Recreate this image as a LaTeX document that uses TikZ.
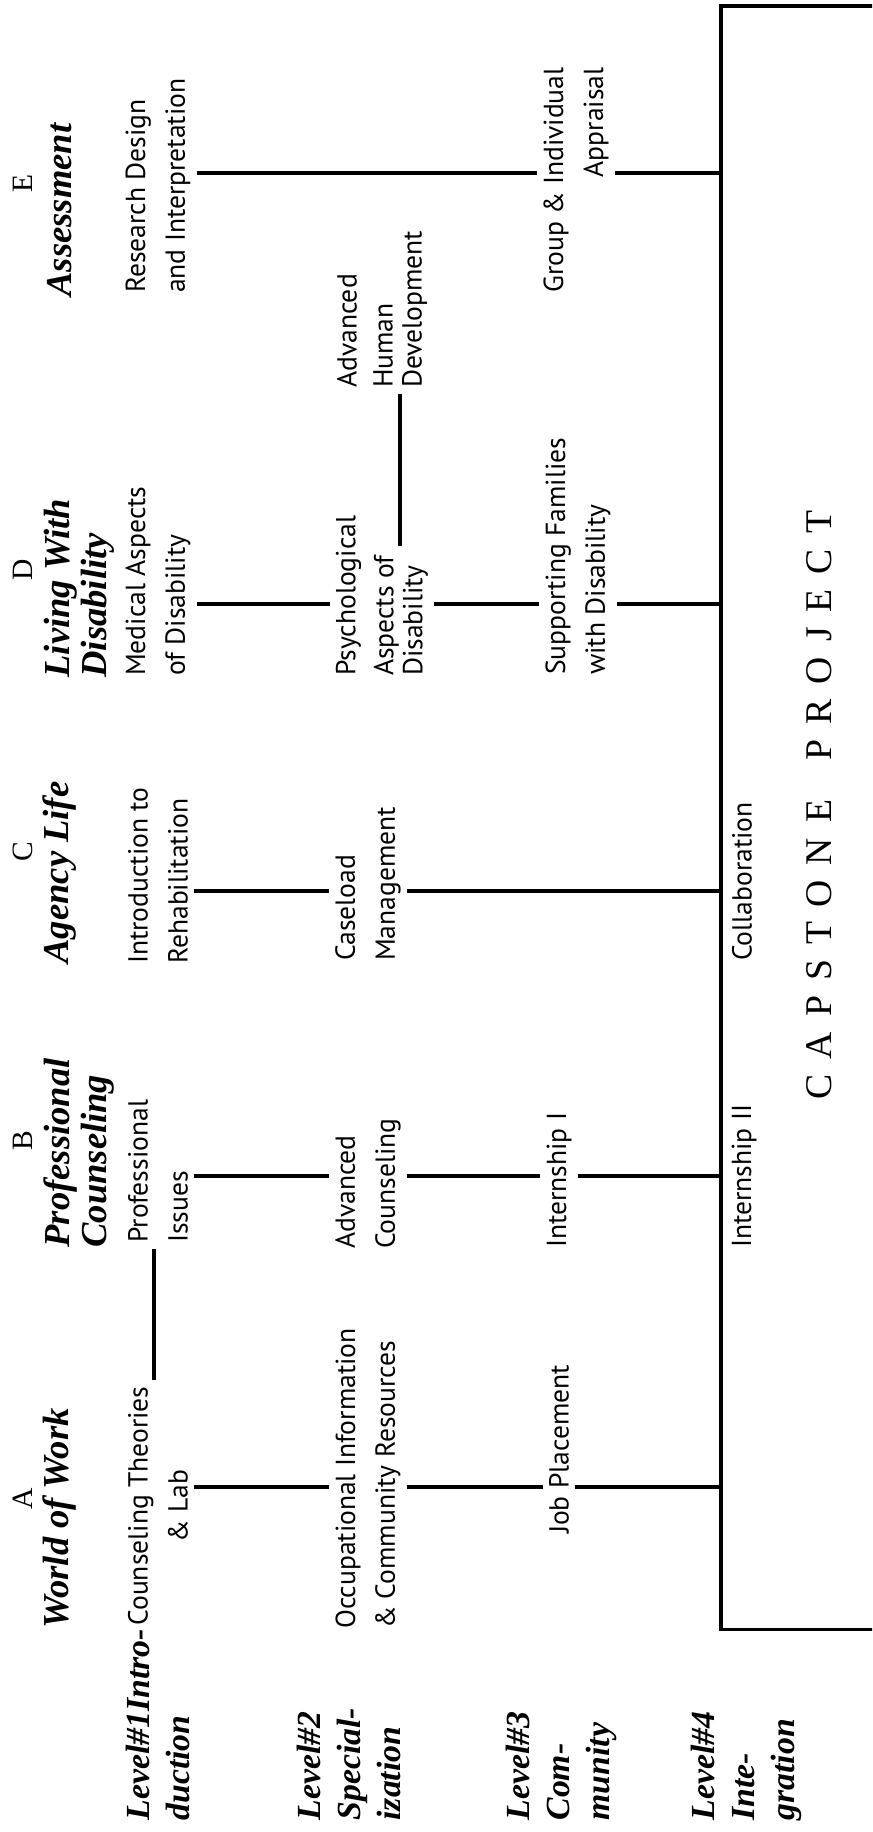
\documentclass[tikz,border=0pt]{standalone}
\usepackage{fontspec}
\setmainfont{Liberation Serif}
\newfontfamily\coursefont{PT Sans}
\usetikzlibrary{positioning}

\begin{document}
\begin{tikzpicture}[x=0.0125cm,y=-0.0125cm,
    course/.style={rotate=90,anchor=west,align=left,inner sep=2pt,font=\coursefont\fontsize{9.8}{14.2}\selectfont},
    area/.style={rotate=90,anchor=west,align=left,inner sep=0pt,font=\fontsize{13}{13.1}\selectfont\bfseries\itshape},
    letter/.style={rotate=90,inner sep=0pt,font=\fontsize{10.5}{12}\selectfont},
    level/.style={rotate=90,anchor=west,align=left,inner sep=0pt,font=\fontsize{12}{14.2}\selectfont\bfseries\itshape},
    link/.style={line width=1.3pt}]
    \useasboundingbox (0,0) rectangle (872,1832);
    \clip (0,0) rectangle (872,1832);
    % column and rung positions
    \coordinate (colE) at (0,173);
    \coordinate (colD) at (0,604);
    \coordinate (colC) at (0,891);
    \coordinate (colB) at (0,1176);
    \coordinate (colA) at (0,1487);
    \coordinate (vD) at (400,0);
    \coordinate (vB) at (154,0);
    % headings
    \node[letter] (ltrE) at (23,183) {E};
    \node[letter] (ltrD) at (23,570) {D};
    \node[letter] (ltrC) at (23,852) {C};
    \node[letter] (ltrB) at (23,1141) {B};
    \node[letter] (ltrA) at (23,1499) {A};
    \node[area] (ttlE) at (60,297) {Assessment};
    \node[area] (ttlD) at (79,678) {Living With\\Disability};
    \node[area] (ttlC) at (60,964) {Agency Life};
    \node[area] (ttlB) at (79,1248) {Professional\\Counseling};
    \node[area] (ttlA) at (60,1629) {World of Work};
    % levels
    \node[level] (lvlone) at (158,1821) {Level\#1Intro-\\duction};
    \node[level] (lvltwo) at (349,1821) {Level\#2\\Special-\\ization};
    \node[level] (lvlthree) at (561,1821) {Level\#3\\Com-\\munity};
    \node[level] (lvlfour) at (746,1821) {Level\#4\\Inte-\\gration};
    % capstone
    \node[draw,line width=1.3pt,anchor=north west,inner sep=0pt,minimum width=2.5cm,minimum height=20.29cm] (cap) at (719,4) {};
    \node[rotate=90,font=\fontsize{13.4}{14}\selectfont\addfontfeature{LetterSpace=40}] (captxt) at (819,805) {CAPSTONE\hspace{14pt}PROJECT};
    % courses
    \node[course] (rd) at (158,299) {Research Design\\and Interpretation};
    \node[course,align=right] (gi) at (576,299) {Group \& Individual\\Appraisal};
    \node[course] (ahd) at (382,394) {Advanced\\[-1.4pt]Human\\[-3.9pt]Development};
    \node[course] (med) at (158,682) {Medical Aspects\\of Disability};
    \node[course] (psy) at (382,682) {Psychological\\[-0.7pt]Aspects of\\[-3.9pt]Disability};
    \node[course] (sup) at (578,681) {Supporting Families\\with Disability};
    \node[course] (intro) at (158,970) {Introduction to\\Rehabilitation};
    \node[course] (case) at (368,967) {Caseload\\Management};
    \node[course] (coll) at (742,967) {Collaboration};
    \node[course] (pi) at (158,1249) {Professional\\Issues};
    \node[course] (ac) at (368,1255) {Advanced\\Counseling};
    \node[course] (ione) at (559,1254) {Internship I};
    \node[course] (itwo) at (744,1254) {Internship II};
    \node[course,align=center,anchor=center] (ct) at (158,1506) {Counseling Theories\\\& Lab};
    \node[course] (occ) at (368,1635) {Occupational Information\\\& Community Resources};
    \node[course] (jp) at (559,1540) {Job Placement};
    \coordinate (psytop) at ([yshift=-12.8pt]psy.east);
    % rungs
    \draw[link] (rd.south |- colE) -- (gi.north |- colE);
    \draw[link] (gi.south |- colE) -- (cap.west |- colE);
    \draw[link] (med.south |- colD) -- (psy.north |- colD);
    \draw[link] (psy.south |- colD) -- (sup.north |- colD);
    \draw[link] (sup.south |- colD) -- (cap.west |- colD);
    \draw[link] (ahd.west -| vD) -- (psytop -| vD);
    \draw[link] (intro.south |- colC) -- (case.north |- colC);
    \draw[link] (case.south |- colC) -- (cap.west |- colC);
    \draw[link] (pi.south |- colB) -- (ac.north |- colB);
    \draw[link] (ac.south |- colB) -- (ione.north |- colB);
    \draw[link] (ione.south |- colB) -- (cap.west |- colB);
    \draw[link] (pi.west -| vB) -- (ct.east -| vB);
    \draw[link] (ct.south |- colA) -- (occ.north |- colA);
    \draw[link] (occ.south |- colA) -- (jp.north |- colA);
    \draw[link] (jp.south |- colA) -- (cap.west |- colA);
\end{tikzpicture}
\end{document}
